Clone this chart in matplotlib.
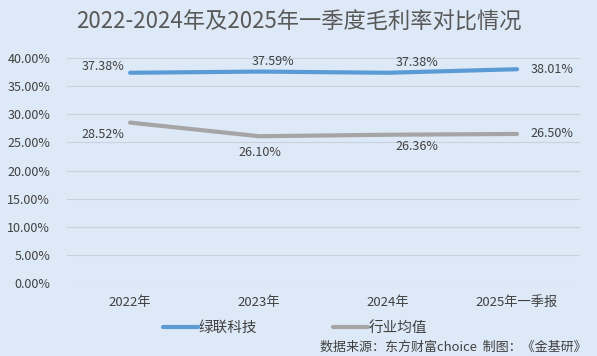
import numpy as np
from matplotlib import pyplot as plt

plt.rcParams['font.family'] = ['Noto Sans CJK SC', 'DejaVu Sans']

categories = ["2022年", "2023年", "2024年", "2025年一季报"]
lvlian = [37.38, 37.59, 37.38, 38.01]
industry = [28.52, 26.10, 26.36, 26.50]
yticks = [0, 5, 10, 15, 20, 25, 30, 35, 40]

bg = "#dde9f6"
txt = "#404040"

fig = plt.figure(figsize=(5.97, 3.56), dpi=100, facecolor=bg)
ax = fig.add_axes([0.112, 0.205, 0.86, 0.632], facecolor=bg)

x = np.arange(len(categories))
ax.plot(x, lvlian, color="#5b9bd5", lw=3, solid_capstyle="round", label="绿联科技")
ax.plot(x, industry, color="#a5a5a5", lw=3, solid_capstyle="round", label="行业均值")

# data labels (offsets in pixels)
blue_off = [(-27, 6), (14, 10), (29, 10), (35, 0)]
grey_off = [(-27, -12), (1, -16), (29, -12), (35, 0)]
for i in range(len(x)):
    ax.annotate(f"{lvlian[i]:.2f}%", (x[i], lvlian[i]), xytext=blue_off[i],
                textcoords="offset pixels", ha="center", va="center",
                fontsize=9, color=txt)
    ax.annotate(f"{industry[i]:.2f}%", (x[i], industry[i]), xytext=grey_off[i],
                textcoords="offset pixels", ha="center", va="center",
                fontsize=9, color=txt)

ax.set_xlim(-0.49, 3.49)
ax.set_ylim(0, 40)
ax.set_yticks(yticks)
ax.set_yticklabels([f"{v:.2f}%" for v in yticks], fontsize=9, color=txt)
ax.grid(axis="y", color="#c9d2dc", lw=0.8)
ax.set_axisbelow(True)
ax.tick_params(length=0, pad=12)

ax.set_xticks(x)
ax.set_xticklabels(categories, fontsize=9.5, color=txt)
ax.tick_params(axis="x", pad=9)
for s in ax.spines.values():
    s.set_visible(False)

fig.text(0.5, 0.938, "2022-2024年及2025年一季度毛利率对比情况", ha="center", va="center",
         fontsize=16, color="#595959")

fig.legend(loc="center left", bbox_to_anchor=(163 / 597, 1 - 328 / 356), ncol=2,
           frameon=False, fontsize=10.5, handlelength=2.4, handletextpad=0.05,
           columnspacing=5.2, borderpad=0, borderaxespad=0, labelcolor=txt)

fig.text(587 / 597, 1 - 347 / 356, "数据来源：东方财富choice  制图：《金基研》", ha="right",
         va="center", fontsize=9.4, color=txt)

plt.savefig("out.png", facecolor=bg)
